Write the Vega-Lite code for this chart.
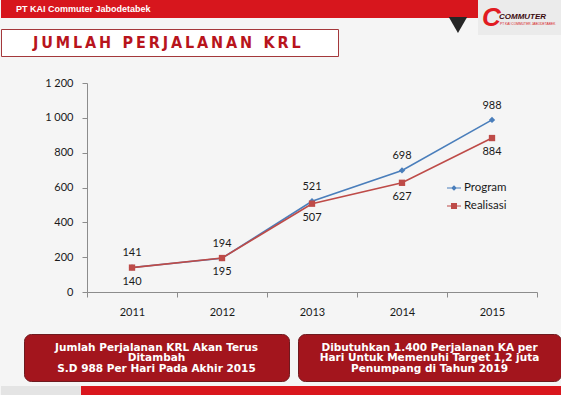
{
  "$schema": "https://vega.github.io/schema/vega-lite/v6.json",
  "padding": 0,
  "background": "#f5f5f5",
  "config": {"view": {"stroke": null}, "font": "Lato"},
  "spacing": 4,
  "vconcat": [
    {
      "spacing": 16,
      "vconcat": [
        {
          "spacing": 20,
          "vconcat": [
            {
              "spacing": 0,
              "hconcat": [
                {
                  "spacing": 11,
                  "bounds": "flush",
                  "vconcat": [
                    {
                      "width": 477,
                      "height": 18,
                      "view": {"fill": "#d7161d"},
                      "data": {"values": [{"label": "PT KAI Commuter Jabodetabek"}]},
                      "encoding": {"x": {"datum": 0, "type": "quantitative", "scale": {"domain": [0, 1]}, "axis": null}},
                      "layer": [
                        {
                          "mark": {"type": "text", "align": "left", "baseline": "middle", "dx": 15, "fontSize": 9, "fontWeight": "bold", "font": "Liberation Sans", "color": "#ffffff"},
                          "encoding": {"text": {"field": "label", "type": "nominal"}}
                        },
                        {
                          "mark": {"type": "point", "shape": "triangle-down", "filled": true, "color": "#262626", "size": 340, "opacity": 1, "yOffset": 16},
                          "encoding": {"x": {"datum": 0.958, "type": "quantitative"}}
                        }
                      ]
                    },
                    {
                      "width": 337,
                      "height": 27,
                      "view": {"fill": "#ffffff", "stroke": "#a4383b", "strokeWidth": 1},
                      "data": {"values": [{"t": "J\u2009U\u2009M\u2009L\u2009A\u2009H\u2009\u2009\u2009\u2009P\u2009E\u2009R\u2009J\u2009A\u2009L\u2009A\u2009N\u2009A\u2009N\u2009\u2009\u2009\u2009K\u2009R\u2009L"}]},
                      "mark": {"type": "text", "align": "left", "baseline": "middle", "dx": 32, "fontSize": 16, "fontWeight": "bold", "font": "Liberation Sans Narrow, DejaVu Sans Condensed, sans-serif", "color": "#b8141c"},
                      "encoding": {
                        "x": {"datum": 0, "type": "quantitative", "scale": {"domain": [0, 1]}, "axis": null},
                        "text": {"field": "t", "type": "nominal"}
                      }
                    }
                  ]
                },
                {
                  "width": 84,
                  "height": 35,
                  "view": {"fill": "#ebebeb"},
                  "data": {"values": [{"c": "C", "name": "COMMUTER", "sub": "PT KAI COMMUTER JABODETABEK"}]},
                  "encoding": {"x": {"datum": 0, "type": "quantitative", "scale": {"domain": [0, 1]}, "axis": null}},
                  "layer": [
                    {
                      "mark": {"type": "text", "align": "left", "baseline": "middle", "dx": 4, "fontSize": 26, "fontWeight": "bold", "fontStyle": "italic", "font": "Liberation Sans", "color": "#e11b22"},
                      "encoding": {"text": {"field": "c", "type": "nominal"}}
                    },
                    {
                      "mark": {"type": "text", "align": "left", "baseline": "middle", "dx": 21, "dy": -1, "fontSize": 8, "fontWeight": "bold", "fontStyle": "italic", "font": "Liberation Sans", "color": "#3b0a0e"},
                      "encoding": {"text": {"field": "name", "type": "nominal"}}
                    },
                    {
                      "mark": {"type": "text", "align": "left", "baseline": "middle", "dx": 22, "dy": 6, "fontSize": 3.3, "font": "Liberation Sans", "color": "#d7191f"},
                      "encoding": {"text": {"field": "sub", "type": "nominal"}}
                    }
                  ]
                }
              ]
            },
            {
              "spacing": 85,
              "bounds": "flush",
              "hconcat": [
                {
                  "width": 1,
                  "height": 1,
                  "data": {"values": [{"k": 1}]},
                  "mark": {"type": "point", "opacity": 0, "size": 1},
                  "encoding": {}
                },
                {
                  "width": 450,
                  "height": 209,
                  "data": {"values": [
                    {"year": "2011", "series": "Program", "value": 141},
                    {"year": "2012", "series": "Program", "value": 194},
                    {"year": "2013", "series": "Program", "value": 521},
                    {"year": "2014", "series": "Program", "value": 698},
                    {"year": "2015", "series": "Program", "value": 988},
                    {"year": "2011", "series": "Realisasi", "value": 140},
                    {"year": "2012", "series": "Realisasi", "value": 195},
                    {"year": "2013", "series": "Realisasi", "value": 507},
                    {"year": "2014", "series": "Realisasi", "value": 627},
                    {"year": "2015", "series": "Realisasi", "value": 884}
                  ]},
                  "encoding": {
                    "x": {
                      "field": "year", "type": "ordinal",
                      "scale": {"type": "band", "paddingInner": 0, "paddingOuter": 0},
                      "axis": {"title": null, "tickBand": "extent", "labelAngle": 0, "labelFont": "Lato", "labelFontSize": 11, "labelColor": "#1a1a1a", "labelPadding": 9, "tickSize": 5, "domainColor": "#8c8c8c", "tickColor": "#8c8c8c", "grid": false}
                    },
                    "y": {
                      "field": "value", "type": "quantitative",
                      "scale": {"domain": [0, 1200], "nice": false},
                      "axis": {"title": null, "values": [0, 200, 400, 600, 800, 1000, 1200], "labelExpr": "replace(format(datum.value, ','), ',', ' ')", "labelFont": "Lato", "labelFontSize": 11, "labelColor": "#1a1a1a", "labelPadding": 9, "tickSize": 5, "domainColor": "#8c8c8c", "tickColor": "#8c8c8c", "grid": false}
                    }
                  },
                  "layer": [
                    {
                      "transform": [{"filter": "datum.series === 'Program'"}],
                      "mark": {"type": "line", "strokeWidth": 1.6, "color": "#4a7ebb"}
                    },
                    {
                      "transform": [{"filter": "datum.series === 'Realisasi'"}],
                      "mark": {"type": "line", "strokeWidth": 1.6, "color": "#be4b48"}
                    },
                    {
                      "transform": [{"filter": "datum.series === 'Program'"}],
                      "mark": {"type": "point", "shape": "diamond", "filled": true, "size": 40, "color": "#4a7ebb", "opacity": 1}
                    },
                    {
                      "transform": [{"filter": "datum.series === 'Realisasi'"}],
                      "mark": {"type": "point", "shape": "square", "filled": true, "size": 40, "color": "#be4b48", "opacity": 1}
                    },
                    {
                      "transform": [{"filter": "datum.series === 'Program'"}],
                      "mark": {"type": "text", "dy": -14, "fontSize": 11, "font": "Lato", "color": "#1a1a1a"},
                      "encoding": {"text": {"field": "value", "type": "quantitative"}}
                    },
                    {
                      "transform": [{"filter": "datum.series === 'Realisasi'"}],
                      "mark": {"type": "text", "dy": 14, "fontSize": 11, "font": "Lato", "color": "#1a1a1a"},
                      "encoding": {"text": {"field": "value", "type": "quantitative"}}
                    },
                    {
                      "transform": [{"filter": "false"}],
                      "mark": {"type": "point", "filled": true, "opacity": 1, "strokeWidth": 0},
                      "encoding": {
                        "color": {
                          "field": "series", "type": "nominal",
                          "scale": {"domain": ["Program", "Realisasi"], "range": ["#4a7ebb", "#be4b48"]},
                          "legend": {"title": null, "orient": "none", "legendX": 446, "legendY": 181, "direction": "vertical", "symbolSize": 196, "labelFont": "Lato", "labelFontSize": 11.5, "labelColor": "#1a1a1a", "labelOffset": 3, "rowPadding": 5, "padding": 0, "symbolStrokeWidth": 0}
                        },
                        "shape": {
                          "field": "series", "type": "nominal",
                          "scale": {"domain": ["Program", "Realisasi"], "range": ["M-1,-0.08H1V0.08H-1Z M0,-0.4L0.4,0L0,0.4L-0.4,0Z", "M-1,-0.08H1V0.08H-1Z M-0.43,-0.43H0.43V0.43H-0.43Z"]},
                          "legend": {"title": null, "orient": "none", "legendX": 446, "legendY": 181, "direction": "vertical", "symbolSize": 196, "labelFont": "Lato", "labelFontSize": 11.5, "labelColor": "#1a1a1a", "labelOffset": 3, "rowPadding": 5, "padding": 0, "symbolStrokeWidth": 0}
                        }
                      }
                    }
                  ]
                }
              ]
            }
          ]
        },
        {
          "spacing": 9,
          "bounds": "flush",
          "hconcat": [
            {
              "width": 14,
              "height": 1,
              "data": {"values": [{"k": 1}]},
              "mark": {"type": "point", "opacity": 0, "size": 1},
              "encoding": {}
            },
            {
              "width": 265,
              "height": 47,
              "view": {"fill": "#a3151d", "stroke": "#6e1a1f", "strokeWidth": 1, "cornerRadius": 7},
              "data": {"values": [{"lines": ["Jumlah Perjalanan KRL Akan Terus", "Ditambah", "S.D 988 Per Hari Pada Akhir 2015"]}]},
              "mark": {"type": "text", "baseline": "middle", "dy": -10, "fontSize": 10.5, "fontWeight": "bold", "font": "DejaVu Sans", "color": "#ffffff", "lineHeight": 10.5},
              "encoding": {"text": {"field": "lines", "type": "nominal"}}
            },
            {
              "width": 263,
              "height": 47,
              "view": {"fill": "#a3151d", "stroke": "#6e1a1f", "strokeWidth": 1, "cornerRadius": 7},
              "data": {"values": [{"lines": ["Dibutuhkan 1.400 Perjalanan KA per", "Hari Untuk Memenuhi Target 1,2 juta", "Penumpang di Tahun 2019"]}]},
              "mark": {"type": "text", "baseline": "middle", "dy": -10, "fontSize": 10.5, "fontWeight": "bold", "font": "DejaVu Sans", "color": "#ffffff", "lineHeight": 10.5},
              "encoding": {"text": {"field": "lines", "type": "nominal"}}
            }
          ]
        }
      ]
    },
    {
      "spacing": 0,
      "bounds": "flush",
      "hconcat": [
        {
          "width": 80,
          "height": 9,
          "view": {"fill": "#e4e4e4"},
          "data": {"values": [{"k": 1}]},
          "mark": {"type": "point", "opacity": 0, "size": 1},
          "encoding": {}
        },
        {
          "width": 481,
          "height": 9,
          "view": {"fill": "#d9161d"},
          "data": {"values": [{"k": 1}]},
          "mark": {"type": "point", "opacity": 0, "size": 1},
          "encoding": {}
        }
      ]
    }
  ]
}
